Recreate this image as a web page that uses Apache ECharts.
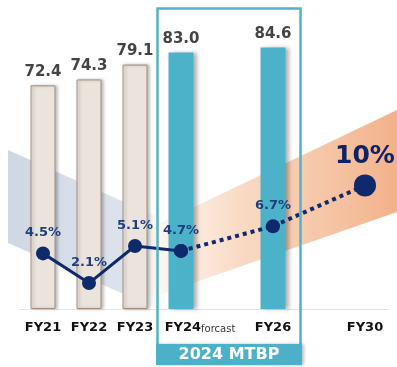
<!DOCTYPE html>
<html>
<head>
<meta charset="utf-8">
<script src="https://cdn.jsdelivr.net/npm/echarts@6/dist/echarts.min.js"></script>
<style>
html,body{margin:0;padding:0;background:#fff;}
#c{width:397px;height:367px;}
</style>
</head>
<body>
<div id="c"></div>
<script>
// ---- data ----
var categories = ['FY21', 'FY22', 'FY23', 'FY24', ' ', 'FY26', '  ', 'FY30'];
var salesValues = [72.4, 74.3, 79.1, 83.0, null, 84.6, null, null];
var actualCount = 3; // FY21-FY23 are actual results
var growthActual = [4.5, 2.1, 5.1, 4.7, null, null, null, null];
var growthPlan = [null, null, null, 4.7, null, 6.7, null, 10];
var forecastNote = 'forcast';
var boxTitle = '2024 MTBP';

var chart = echarts.init(document.getElementById('c'), null, {renderer: 'canvas'});
var FONT = 'DejaVu Sans';

var barData = salesValues.map(function (v, i) {
  if (v === null) return null;
  var actual = i < actualCount;
  return {
    value: v,
    itemStyle: actual ? {
      color: '#ebe4dd', borderColor: '#a48e7e', borderWidth: 1,
      shadowColor: 'rgba(0,0,0,0.25)', shadowBlur: 3, shadowOffsetX: 2
    } : {
      color: '#4cb2c9',
      shadowColor: 'rgba(0,0,0,0.3)', shadowBlur: 4, shadowOffsetX: 3
    }
  };
});

var planData = growthPlan.map(function (v, i) {
  if (v === null) return null;
  if (i === growthPlan.length - 1) {
    return {
      value: v, symbolSize: 22,
      label: {fontSize: 25, color: '#0c2366', distance: 5, formatter: function (p) { return p.value + '%'; }}
    };
  }
  if (i === 3) return {value: v, label: {show: false}};
  return v;
});

var option = {
  animation: false,
  backgroundColor: '#ffffff',
  grid: {left: 20, right: 9, top: 0, bottom: 58},
  xAxis: {
    type: 'category',
    data: categories,
    axisLine: {lineStyle: {color: '#e3e3e3', width: 1}},
    axisTick: {show: false},
    axisLabel: {
      interval: 0, margin: 12,
      fontFamily: FONT, fontWeight: 'bold', fontSize: 13, color: '#111',
      formatter: function (v) {
        if (v === 'FY24') return '{s|}{a|FY24}{b|' + forecastNote + '}';
        return v;
      },
      rich: {
        s: {width: 38},
        a: {fontFamily: FONT, fontWeight: 'bold', fontSize: 13, color: '#111'},
        b: {fontFamily: FONT, fontWeight: 'normal', fontSize: 10, color: '#333', padding: [3, 0, 0, 0]}
      }
    }
  },
  yAxis: [
    {type: 'value', min: 0, max: 100, show: false},
    {type: 'value', min: 0, max: 25, show: false}
  ],
  graphic: [
    {
      type: 'polygon', z: -10,
      shape: {points: [[8, 150], [160, 218], [160, 310], [8, 243]]},
      style: {
        fill: new echarts.graphic.LinearGradient(0, 0, 1, 0, [
          {offset: 0, color: 'rgba(205,213,225,0.95)'},
          {offset: 0.75, color: 'rgba(215,222,232,0.85)'},
          {offset: 1, color: 'rgba(225,230,238,0.2)'}
        ])
      }
    },
    {
      type: 'polygon', z: -10,
      shape: {points: [[150, 228], [397, 110], [397, 212], [150, 298]]},
      style: {
        fill: new echarts.graphic.LinearGradient(0, 0, 1, 0, [
          {offset: 0, color: 'rgba(251,228,212,0.3)'},
          {offset: 0.35, color: 'rgba(249,215,192,0.9)'},
          {offset: 1, color: 'rgba(242,178,138,1)'}
        ])
      }
    },
    {
      type: 'rect', z: 5,
      shape: {x: 157.5, y: 8.5, width: 143, height: 345},
      style: {fill: null, stroke: '#4fb3ca', lineWidth: 2.5}
    },
    {
      type: 'rect', z: 6,
      shape: {x: 156, y: 344, width: 146, height: 21},
      style: {fill: '#4cb1c8', shadowColor: 'rgba(0,0,0,0.25)', shadowBlur: 3, shadowOffsetX: 2}
    },
    {
      type: 'text', z: 7,
      x: 229, y: 355,
      style: {
        text: boxTitle, fill: '#ffffff', font: 'bold 16px "DejaVu Sans"',
        align: 'center', verticalAlign: 'middle'
      }
    }
  ],
  series: [
    {
      type: 'bar',
      data: barData,
      barWidth: 25,
      z: 2,
      label: {
        show: true, position: 'top', distance: 6,
        fontFamily: FONT, fontWeight: 'bold', fontSize: 15, color: '#444',
        formatter: function (p) { return p.value.toFixed(1); }
      }
    },
    {
      type: 'line',
      yAxisIndex: 1,
      data: planData,
      connectNulls: true,
      z: 3,
      symbol: 'circle', symbolSize: 14,
      itemStyle: {color: '#0e2a6c'},
      lineStyle: {color: '#0e2a6c', width: 4, type: [4, 4]},
      label: {
        show: true, position: 'top', distance: 7,
        fontFamily: FONT, fontWeight: 'bold', fontSize: 13, color: '#1f3e80',
        formatter: function (p) { return p.value.toFixed(1) + '%'; }
      }
    },
    {
      type: 'line',
      yAxisIndex: 1,
      data: growthActual,
      z: 4,
      symbol: 'circle', symbolSize: 14,
      itemStyle: {color: '#0e2a6c'},
      lineStyle: {color: '#0e2a6c', width: 3},
      label: {
        show: true, position: 'top', distance: 7,
        fontFamily: FONT, fontWeight: 'bold', fontSize: 13, color: '#1f3e80',
        formatter: function (p) { return p.value.toFixed(1) + '%'; }
      }
    }
  ]
};
chart.setOption(option);
</script>
</body>
</html>
